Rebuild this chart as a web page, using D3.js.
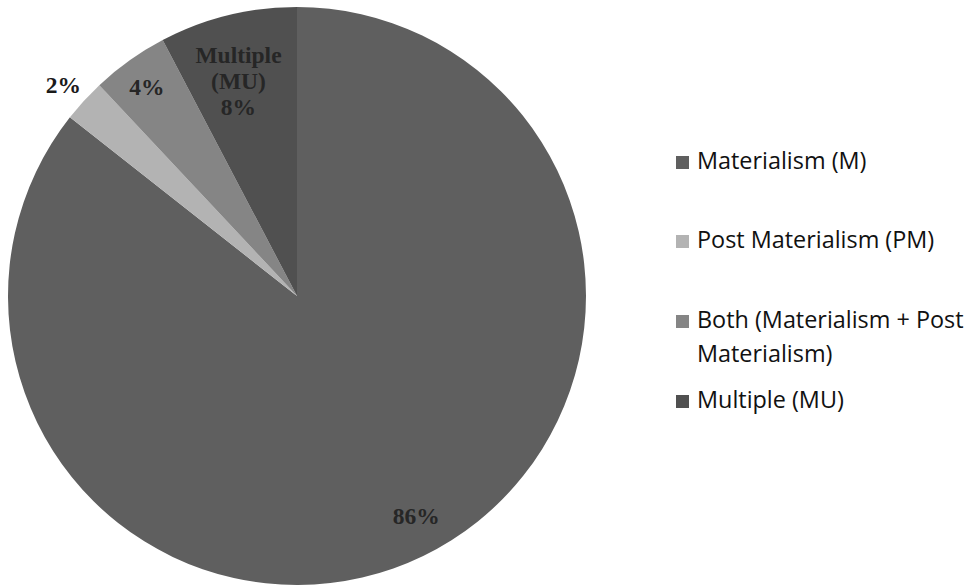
<!DOCTYPE html>
<html>
<head>
<meta charset="utf-8">
<script src="https://cdn.jsdelivr.net/npm/d3@7/dist/d3.min.js"></script>
<style>
  html, body { margin: 0; padding: 0; background: #ffffff; }
  svg { display: block; }
</style>
</head>
<body>
<script>
// ---- data ----
const categories = ["Materialism (M)", "Post Materialism (PM)", "Both (Materialism + Post Materialism)", "Multiple (MU)"];
const values = [85.7, 2.4, 4.3, 7.7];
const valueLabels = ["86%", "2%", "4%", "8%"];
const sliceNames = ["", "", "", "Multiple\n(MU)"];
const legendLines = [["Materialism (M)"], ["Post Materialism (PM)"], ["Both (Materialism + Post", "Materialism)"], ["Multiple (MU)"]];
const colors = ["#5f5f5f", "#b3b3b3", "#858585", "#505050"];

// ---- layout ----
const W = 973, H = 587;
const cx = 297, cy = 296, R = 289;
const labelRadius = [0.865, 1.09, 0.89, 0.77];
const labelAngleShiftDeg = [-2.6, -0.4, -0.3, -1.4];

const svg = d3.select("body").append("svg").attr("width", W).attr("height", H);

const pie = d3.pie().sort(null).value(d => d)
  .startAngle(0).endAngle(2 * Math.PI);
const arcs = pie(values);
const arc = d3.arc().innerRadius(0).outerRadius(R);

const g = svg.append("g").attr("transform", `translate(${cx},${cy})`);
g.selectAll("path.slice").data(arcs).enter().append("path")
  .attr("class", "slice")
  .attr("d", arc)
  .attr("fill", (d, i) => colors[i]);

// labels
arcs.forEach((d, i) => {
  const r = R * labelRadius[i];
  const a = (d.startAngle + d.endAngle) / 2 + labelAngleShiftDeg[i] * Math.PI / 180;
  const x = r * Math.sin(a), y = -r * Math.cos(a);
  const lines = (sliceNames[i] ? sliceNames[i].split("\n") : []).concat([valueLabels[i]]);
  const lh = 26;
  const t = g.append("text")
    .attr("x", x).attr("y", y)
    .attr("text-anchor", "middle")
    .attr("font-family", "'Liberation Serif', 'Times New Roman', serif")
    .attr("font-weight", "bold")
    .attr("font-size", 23.5)
    .attr("fill", i === 1 ? "#1a1a1a" : "#262626");
  lines.forEach((ln, k) => {
    t.append("tspan")
      .attr("x", x)
      .attr("y", y + (k - (lines.length - 1) / 2) * lh + 8)
      .text(ln);
  });
});

// legend
const legendX = 676;
const rowBaselines = [169, 248, 328, 408];
const lineGap = 34;
const lg = svg.append("g");
legendLines.forEach((lines, i) => {
  const b = rowBaselines[i];
  lg.append("rect")
    .attr("x", legendX).attr("y", b - 13)
    .attr("width", 13).attr("height", 13)
    .attr("fill", colors[i]);
  const t = lg.append("text")
    .attr("font-family", "'Open Sans', 'Noto Sans', sans-serif")
    .attr("font-size", 23.4)
    .attr("fill", "#111111");
  lines.forEach((ln, k) => {
    t.append("tspan").attr("x", legendX + 21).attr("y", b + k * lineGap).text(ln);
  });
});
</script>
</body>
</html>
